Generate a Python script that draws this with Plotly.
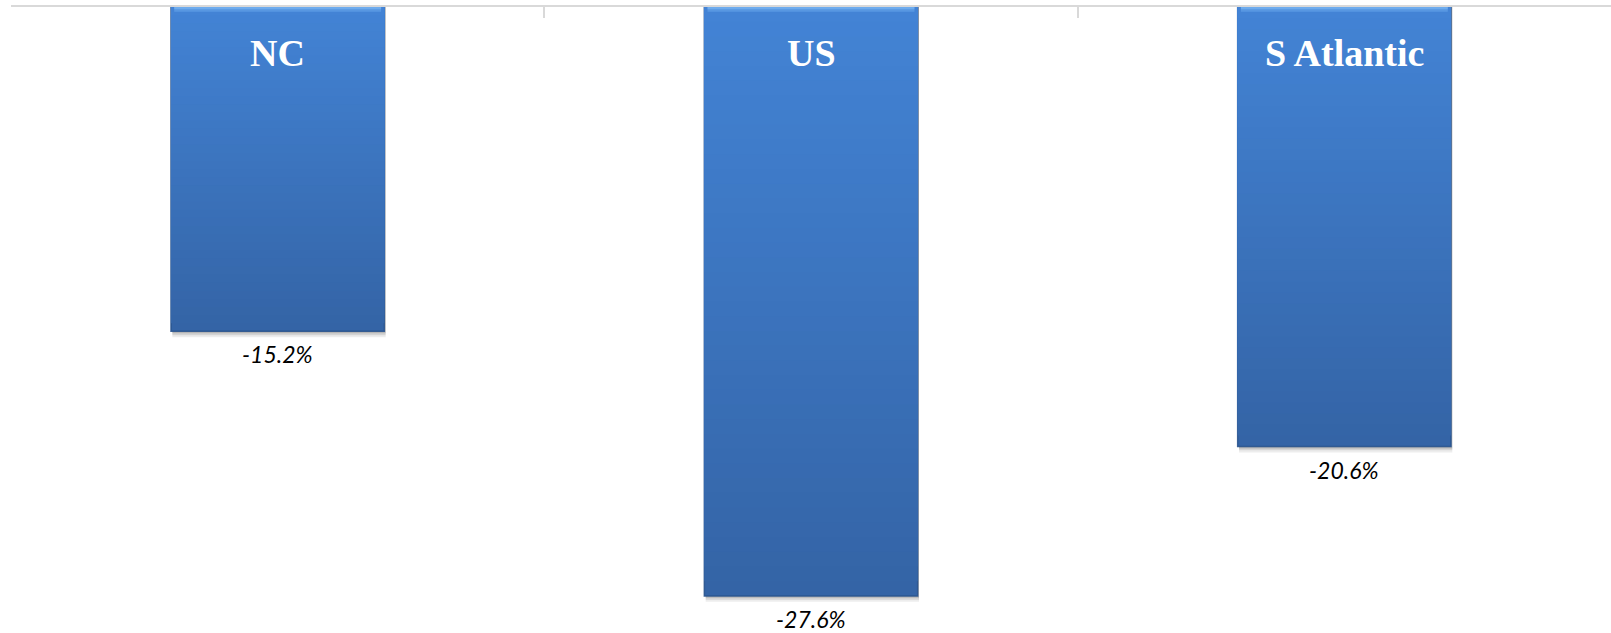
import plotly.graph_objects as go

# Percent change by region
regions = ["NC", "US", "S Atlantic"]
changes = [-15.2, -27.6, -20.6]
value_labels = ["-15.2%", "-27.6%", "-20.6%"]

# Gradient colours for the bar fill (top -> bottom)
top_rgb = (67, 132, 214)
bottom_rgb = (52, 100, 166)
n_steps = 40
bar_w = 0.40


def blend(t):
    r, g, b = (round(top_rgb[i] + (bottom_rgb[i] - top_rgb[i]) * t) for i in range(3))
    return f"rgb({r},{g},{b})"


fig = go.Figure()

# soft drop shadow, falling slightly below and to the right of each bar
for depth, alpha in [(0.28, 0.07), (0.18, 0.10), (0.09, 0.14)]:
    fig.add_trace(go.Bar(
        x=regions, y=[v - depth for v in changes],
        width=bar_w, offset=-bar_w / 2 + 0.0025,
        marker=dict(color=f"rgba(0,0,0,{alpha})", line=dict(width=0)),
        hoverinfo="skip", showlegend=False,
    ))

# vertical gradient: full-length dark bar first, then shorter, lighter bars on top
for s in range(n_steps, 0, -1):
    frac = s / n_steps
    edge = s == n_steps
    fig.add_trace(go.Bar(
        x=regions, y=[v * frac for v in changes],
        width=bar_w,
        marker=dict(color=blend(frac),
                    line=dict(color="rgba(42,84,142,0.9)" if edge else "rgba(0,0,0,0)",
                              width=1.5 if edge else 0)),
        hoverinfo="skip", showlegend=False,
    ))

# light bevel along the top edge of each bar
for depth, alpha in [(0.22, 0.35), (0.10, 0.55)]:
    fig.add_trace(go.Bar(
        x=regions, y=[-depth] * len(regions), width=bar_w - 0.012,
        marker=dict(color=f"rgba(130,190,250,{alpha})", line=dict(width=0)),
        hoverinfo="skip", showlegend=False,
    ))

# region names inside the bars
for name in regions:
    fig.add_annotation(
        x=name, y=0, yanchor="middle", yshift=-46, showarrow=False,
        text=f"<b>{name}</b>",
        font=dict(family="Liberation Serif", size=38, color="white"),
    )

# value labels just past the end of each bar
for name, v, lab in zip(regions, changes, value_labels):
    fig.add_annotation(
        x=name, y=v, yanchor="middle", yshift=-23, showarrow=False,
        text=lab,
        font=dict(family="Lato", size=23, color="black", style="italic"),
    )

fig.update_layout(
    width=1611, height=633,
    margin=dict(l=11, r=0, t=7, b=0),
    paper_bgcolor="white", plot_bgcolor="white",
    barmode="overlay", bargap=0.6, showlegend=False,
    xaxis=dict(
        side="top", showline=True, linecolor="#d9d9d9", linewidth=2,
        ticks="inside", tickson="boundaries", ticklen=11, tickwidth=2,
        tickcolor="#d9d9d9", showticklabels=False, showgrid=False,
        zeroline=False, fixedrange=True,
    ),
    yaxis=dict(
        range=[-29.34, 0], visible=False, showgrid=False, zeroline=False,
        fixedrange=True,
    ),
)

fig.write_html("out.html")
